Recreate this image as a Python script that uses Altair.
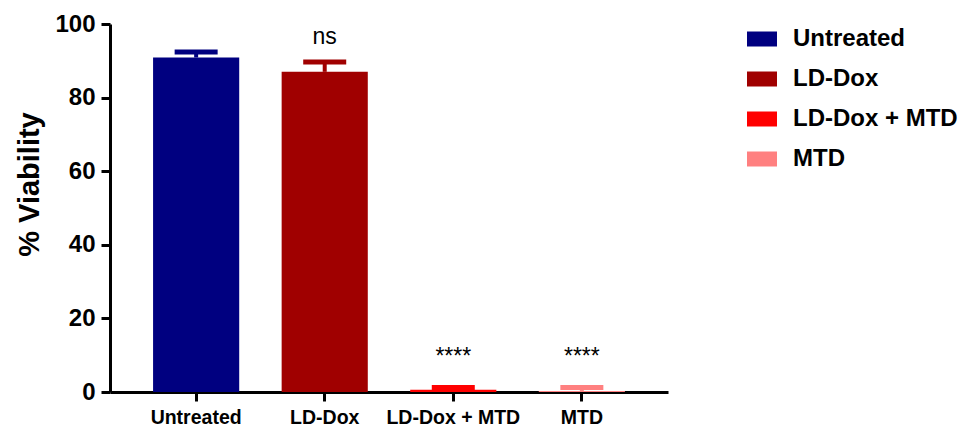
import altair as alt
import pandas as pd

categories = ["Untreated", "LD-Dox", "LD-Dox + MTD", "MTD"]
means = [90.9, 87.0, 0.6, 0.3]
upper = [92.4, 89.7, 1.2, 1.2]
colors = ["#000080", "#A00000", "#FF0000", "#FF8080"]
annot_cats = ["LD-Dox", "LD-Dox + MTD", "MTD"]
annot_text = ["ns", "****", "****"]
annot_y = [96.6, 9.4, 9.4]

df = pd.DataFrame({"cat": categories, "mean": means, "upper": upper})
ann = pd.DataFrame({"cat": annot_cats, "text": annot_text, "y": annot_y})

FONT = "Liberation Sans"

xenc = alt.X("cat:N", sort=categories,
             scale=alt.Scale(domain=categories, paddingInner=0.33, paddingOuter=0.335),
             axis=alt.Axis(title=None, labelAngle=0, labelFont=FONT, labelFontSize=19.5,
                           labelFontWeight="bold", labelColor="black", labelPadding=7,
                           labelLimit=0,
                           domainColor="black", domainWidth=3, tickColor="black",
                           tickWidth=3, tickSize=9, grid=False))
yscale = alt.Scale(domain=[0, 100], nice=False)
color = alt.Color("cat:N", sort=categories,
                  scale=alt.Scale(domain=categories, range=colors),
                  legend=alt.Legend(title=None, orient="none", legendX=637, legendY=0,
                                    symbolType="M-1,-0.5H1V0.5H-1Z", symbolSize=900,
                                    symbolStrokeWidth=0, symbolOpacity=1,
                                    labelFont=FONT, labelFontSize=24, labelLimit=0,
                                    labelFontWeight="bold", labelColor="black",
                                    labelOffset=16, rowPadding=13))

bars = alt.Chart(df).mark_bar(stroke=None, opacity=1).encode(
    x=xenc,
    y=alt.Y("mean:Q", scale=yscale,
            axis=alt.Axis(title="% Viability", values=[0, 20, 40, 60, 80, 100],
                          labelFont=FONT, labelFontSize=24, labelFontWeight="bold",
                          labelColor="black", labelPadding=6, domainColor="black",
                          domainWidth=3, tickColor="black", tickWidth=3, tickSize=9,
                          grid=False, titleFont=FONT, titleFontSize=29,
                          titleFontWeight="bold", titleColor="black",
                          titleX=-81, titleY=160, titleAngle=270,
                          titleAlign="center", titleBaseline="middle")),
    color=color,
)

stems = alt.Chart(df).mark_rule(strokeWidth=4, opacity=1).encode(
    x=alt.X("cat:N", sort=categories),
    y=alt.Y("mean:Q", scale=yscale),
    y2="upper:Q",
    color=alt.Color("cat:N", sort=categories, legend=None),
)

caps = alt.Chart(df).mark_tick(thickness=5, size=43, orient="horizontal", opacity=1).encode(
    x=alt.X("cat:N", sort=categories),
    y=alt.Y("upper:Q", scale=yscale),
    color=alt.Color("cat:N", sort=categories, legend=None),
)

texts = alt.Chart(ann).mark_text(font=FONT, fontSize=23, color="black", baseline="middle").encode(
    x=alt.X("cat:N", sort=categories),
    y=alt.Y("y:Q", scale=yscale),
    text="text:N",
)

chart = alt.layer(bars, stems, caps, texts).properties(
    width=558, height=368,
    autosize=alt.AutoSizeParams(type="none"),
    padding={"left": 102, "top": 16, "right": 299, "bottom": 36},
    background="white",
).configure_view(stroke=None)

chart.save("out.html", embed_options={"renderer": "svg", "actions": False})
